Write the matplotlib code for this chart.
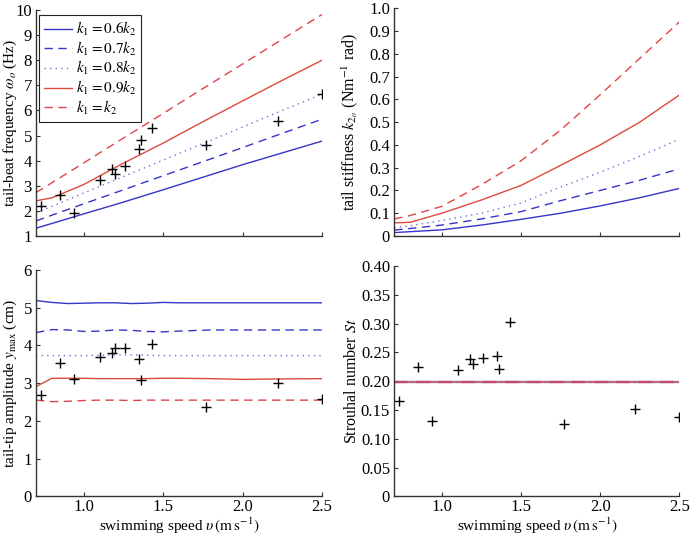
import matplotlib
matplotlib.use("Agg")
import matplotlib.pyplot as plt
import matplotlib.ticker as ticker
import numpy as np

plt.rcParams['font.family'] = ['Liberation Serif', 'DejaVu Serif']
plt.rcParams['mathtext.fontset'] = 'stix'

# measured data (crosses)
speed_obs = [0.73, 0.85, 0.94, 1.10, 1.18, 1.20, 1.26, 1.35, 1.36, 1.43, 1.77, 2.22, 2.50]
freq_obs = [2.20, 2.64, 1.92, 3.25, 3.66, 3.47, 3.80, 4.47, 4.83, 5.30, 4.64, 5.60, 6.65]
amp_obs = [2.69, 3.53, 3.12, 3.69, 3.80, 3.93, 3.93, 3.65, 3.09, 4.04, 2.37, 3.00, 2.57]
st_obs = [0.166, 0.224, 0.130, 0.220, 0.238, 0.229, 0.240, 0.243, 0.221, 0.302, 0.125, 0.152, 0.137]

# model curves
speed_mod = [0.7, 0.8, 1.0, 1.25, 1.5, 1.75, 2.0, 2.25, 2.5]
freq_06 = [1.31, 1.50, 1.88, 2.35, 2.84, 3.34, 3.84, 4.31, 4.78]
freq_07 = [1.60, 1.83, 2.28, 2.84, 3.40, 3.96, 4.52, 5.09, 5.65]
freq_08 = [1.92, 2.18, 2.71, 3.37, 4.02, 4.68, 5.34, 6.00, 6.65]
freq_09 = [2.40, 2.52, 3.05, 3.90, 4.70, 5.55, 6.38, 7.20, 8.00]
freq_10 = [2.73, 3.12, 3.91, 4.90, 5.88, 6.87, 7.85, 8.84, 9.82]

stiff_06 = [0.015, 0.019, 0.027, 0.048, 0.073, 0.100, 0.132, 0.168, 0.209]
stiff_07 = [0.026, 0.033, 0.048, 0.075, 0.107, 0.155, 0.200, 0.245, 0.295]
stiff_08 = [0.036, 0.045, 0.068, 0.100, 0.145, 0.215, 0.280, 0.350, 0.425]
stiff_09 = [0.058, 0.060, 0.100, 0.158, 0.222, 0.310, 0.400, 0.500, 0.619]
stiff_10 = [0.075, 0.090, 0.130, 0.225, 0.330, 0.465, 0.620, 0.780, 0.940]

speed_amp = [0.7, 0.8, 0.9, 1.0, 1.1, 1.2, 1.3, 1.4, 1.5, 1.6, 1.8, 2.0, 2.2, 2.5]
amp_06 = [5.19, 5.14, 5.11, 5.12, 5.13, 5.13, 5.11, 5.12, 5.14, 5.13, 5.13, 5.13, 5.13, 5.13]
amp_07 = [4.34, 4.42, 4.41, 4.37, 4.38, 4.41, 4.40, 4.37, 4.36, 4.38, 4.41, 4.41, 4.41, 4.41]
amp_08 = [3.74, 3.73, 3.73, 3.73, 3.74, 3.75, 3.75, 3.74, 3.73, 3.73, 3.73, 3.73, 3.73, 3.73]
amp_09 = [2.91, 3.13, 3.13, 3.13, 3.12, 3.12, 3.12, 3.12, 3.13, 3.13, 3.12, 3.10, 3.11, 3.12]
amp_10 = [2.55, 2.51, 2.52, 2.54, 2.55, 2.55, 2.54, 2.55, 2.55, 2.55, 2.55, 2.55, 2.55, 2.55]

speed_st = [0.7, 2.5]
st_06 = [0.199, 0.199]
st_07 = [0.199, 0.199]
st_08 = [0.199, 0.199]
st_09 = [0.199, 0.199]
st_10 = [0.199, 0.199]

labels = [r"$k_1 = 0.6k_2$", r"$k_1 = 0.7k_2$", r"$k_1 = 0.8k_2$",
          r"$k_1 = 0.9k_2$", r"$k_1 = k_2$"]
blue = "#3535c8"
red = "#e0444a"
styles = [dict(color=blue, ls="-"),
          dict(color=blue, ls=(0, (6, 4))),
          dict(color="#7070d8", ls=(0, (1, 3))),
          dict(color="#dc4a3c", ls="-"),
          dict(color=red, ls=(0, (6, 4)))]

fig = plt.figure(figsize=(6.9, 5.36), dpi=100)
ax1 = fig.add_axes([0.0522, 0.5597, 0.4145, 0.4216])
ax2 = fig.add_axes([0.5714, 0.5597, 0.4131, 0.4248])
ax3 = fig.add_axes([0.0522, 0.0740, 0.4145, 0.4223])
ax4 = fig.add_axes([0.5714, 0.0740, 0.4131, 0.4297])


def style_axes(ax, bottom_labels):
    for s in ["top", "right"]:
        ax.spines[s].set_visible(False)
    for s in ["left", "bottom"]:
        ax.spines[s].set_color("#333333")
        ax.spines[s].set_linewidth(1.0)
    ax.tick_params(direction="in", length=3, width=0.8, labelsize=12, pad=3,
                   colors="#333333", labelcolor="black")
    ax.tick_params(axis="x", pad=2)
    ax.set_xlim(0.7, 2.5)
    ax.set_xticks([1.0, 1.5, 2.0, 2.5])
    if bottom_labels:
        ax.set_xticklabels(["1.0", "1.5", "2.0", "2.5"])
        ax.set_xlabel(r"swimming speed $\upsilon\,(\mathrm{m\,s^{-1}})$", fontsize=11)
        ax.xaxis.set_label_coords(0.5, -0.085)
    else:
        ax.set_xticklabels([])


series_f = [freq_06, freq_07, freq_08, freq_09, freq_10]
for vals, st, lab in zip(series_f, styles, labels):
    ax1.plot(speed_mod, vals, lw=1.0, label=lab, **st)
ax1.plot(speed_obs, freq_obs, "k+", ms=7, mew=1.0)
ax1.set_ylim(1, 10)
ax1.set_yticks(range(1, 11))
style_axes(ax1, False)
ax1.set_ylabel(r"tail-beat frequency $\omega_o$ (Hz)", fontsize=11)
ax1.yaxis.set_label_coords(-0.058, 0.5)
leg = ax1.legend(loc="upper left", bbox_to_anchor=(0.01, 0.979), fontsize=11,
                 handlelength=1.85, handletextpad=0.2, labelspacing=0.1,
                 borderpad=0.35, borderaxespad=0, fancybox=False, framealpha=1)
leg.get_frame().set_edgecolor("#222222")
leg.get_frame().set_linewidth(0.8)

series_k = [stiff_06, stiff_07, stiff_08, stiff_09, stiff_10]
for vals, st in zip(series_k, styles):
    ax2.plot(speed_mod, vals, lw=1.0, **st)
ax2.set_ylim(0, 1.0)
ax2.set_yticks(np.arange(0, 1.01, 0.1))
ax2.yaxis.set_major_formatter(ticker.FuncFormatter(lambda v, p: "0" if v == 0 else f"{v:.1f}"))
style_axes(ax2, False)
ax2.set_ylabel(r"tail stiffness $k_{2_o}$ (Nm$^{-1}$ rad)", fontsize=11.5)
ax2.yaxis.set_label_coords(-0.12, 0.5)

series_a = [amp_06, amp_07, amp_08, amp_09, amp_10]
for vals, st in zip(series_a, styles):
    ax3.plot(speed_amp, vals, lw=1.0, **st)
ax3.plot(speed_obs, amp_obs, "k+", ms=7, mew=1.0)
ax3.set_ylim(0, 6)
ax3.set_yticks(range(0, 7))
style_axes(ax3, True)
ax3.set_ylabel(r"tail-tip amplitude $y_{\mathrm{max}}$ (cm)", fontsize=11)
ax3.yaxis.set_label_coords(-0.058, 0.5)

series_s = [st_06, st_07, st_08, st_09, st_10]
for vals, st in zip(series_s, styles):
    ax4.plot(speed_st, vals, lw=1.6, alpha=0.55, **st)
ax4.plot(speed_obs, st_obs, "k+", ms=7, mew=1.0)
ax4.set_ylim(0, 0.40)
ax4.set_yticks(np.arange(0, 0.401, 0.05))
ax4.yaxis.set_major_formatter(ticker.FuncFormatter(lambda v, p: "0" if v == 0 else f"{v:.2f}"))
style_axes(ax4, True)
ax4.set_ylabel(r"Strouhal number $St$", fontsize=11.5)
ax4.yaxis.set_label_coords(-0.12, 0.5)

fig.savefig("out.png", dpi=100)
